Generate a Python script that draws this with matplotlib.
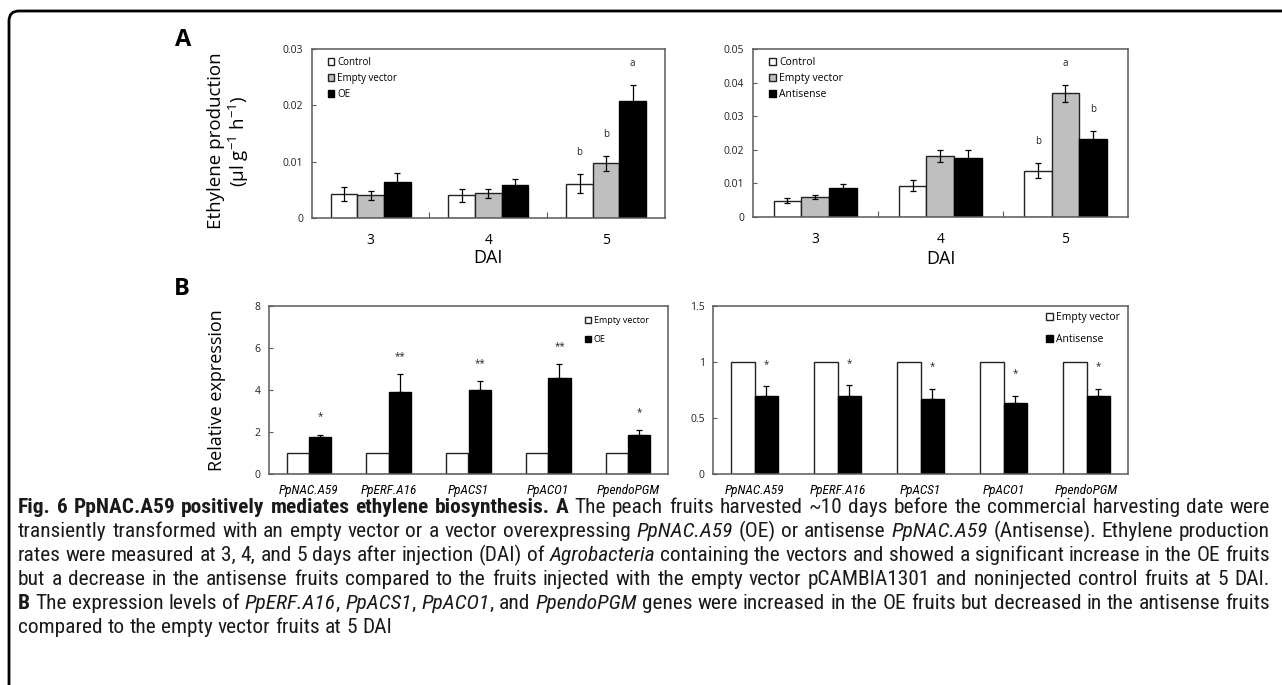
import matplotlib
matplotlib.use('Agg')
import matplotlib.pyplot as plt
from matplotlib import font_manager
from matplotlib.patches import FancyBboxPatch
from matplotlib.transforms import IdentityTransform
import numpy as np

# ---------------- data ----------------
dai = ['3', '4', '5']
groups_oe = ['Control', 'Empty vector', 'OE']
groups_as = ['Control', 'Empty vector', 'Antisense']

a_left_control = [0.00425, 0.0040, 0.0061]
a_left_control_err = [0.0012, 0.0011, 0.0017]
a_left_empty = [0.0040, 0.00436, 0.0097]
a_left_empty_err = [0.00074, 0.00077, 0.0013]
a_left_oe = [0.0064, 0.0058, 0.0207]
a_left_oe_err = [0.0016, 0.0012, 0.0029]
a_left_letters = [['', '', 'b'], ['', '', 'b'], ['', '', 'a']]

a_right_control = [0.0049, 0.0093, 0.0138]
a_right_control_err = [0.0007, 0.0017, 0.0023]
a_right_empty = [0.0059, 0.0182, 0.0368]
a_right_empty_err = [0.0005, 0.0017, 0.0025]
a_right_anti = [0.0085, 0.0177, 0.0232]
a_right_anti_err = [0.0014, 0.0021, 0.0024]
a_right_letters = [['', '', 'b'], ['', '', 'a'], ['', '', 'b']]

genes = ['PpNAC.A59', 'PpERF.A16', 'PpACS1', 'PpACO1', 'PpendoPGM']
b_left_empty = [1, 1, 1, 1, 1]
b_left_oe = [1.78, 3.89, 3.98, 4.59, 1.85]
b_left_oe_err = [0.09, 0.87, 0.45, 0.64, 0.25]
b_left_sig = ['*', '**', '**', '**', '*']

b_right_empty = [1, 1, 1, 1, 1]
b_right_anti = [0.70, 0.696, 0.67, 0.63, 0.70]
b_right_anti_err = [0.086, 0.095, 0.09, 0.07, 0.06]
b_right_sig = ['*', '*', '*', '*', '*']

caption_lines = [
    [("Fig. 6 PpNAC.A59 positively mediates ethylene biosynthesis. A", 'b'),
     (" The peach fruits harvested ~10 days before the commercial harvesting date were", 'n')],
    [("transiently transformed with an empty vector or a vector overexpressing ", 'n'), ("PpNAC.A59", 'i'),
     (" (OE) or antisense ", 'n'), ("PpNAC.A59", 'i'), (" (Antisense). Ethylene production", 'n')],
    [("rates were measured at 3, 4, and 5 days after injection (DAI) of ", 'n'), ("Agrobacteria", 'i'),
     (" containing the vectors and showed a significant increase in the OE fruits", 'n')],
    [("but a decrease in the antisense fruits compared to the fruits injected with the empty vector pCAMBIA1301 and noninjected control fruits at 5 DAI.", 'n')],
    [("B", 'b'), (" The expression levels of ", 'n'), ("PpERF.A16", 'i'), (", ", 'n'), ("PpACS1", 'i'), (", ", 'n'),
     ("PpACO1", 'i'), (", and ", 'n'), ("PpendoPGM", 'i'),
     (" genes were increased in the OE fruits but decreased in the antisense fruits", 'n')],
    [("compared to the empty vector fruits at 5 DAI", 'n')],
]
caption_justify = [True, True, True, True, True, False]

# ---------------- setup ----------------
W, H = 1282, 685
fig = plt.figure(figsize=(W / 100, H / 100), dpi=100)
fig.patch.set_facecolor('white')

avail = {f.name for f in font_manager.fontManager.ttflist}


def pick(*names):
    for n in names:
        if n in avail:
            return n
    return 'DejaVu Sans'


SANS = pick('Open Sans', 'Lato', 'DejaVu Sans')
NARROW = pick('Liberation Sans Narrow', 'Roboto Condensed', 'Liberation Sans', 'DejaVu Sans')
plt.rcParams['mathtext.fontset'] = 'custom'
plt.rcParams['mathtext.rm'] = SANS
plt.rcParams['mathtext.it'] = SANS + ':italic'
plt.rcParams['mathtext.bf'] = SANS + ':bold'
SPINE = '#5a5a5a'
GRAY = '#bfbfbf'


def rect(l, t, r, b):
    return [l / W, 1 - b / H, (r - l) / W, (b - t) / H]


def fx(x):
    return x / W


def fy(y):
    return 1 - y / H


def style_axes(ax, ymax, yticks, ylabels, ncat):
    for s in ax.spines.values():
        s.set_color(SPINE)
        s.set_linewidth(1.1)
    ax.set_ylim(0, ymax)
    ax.set_yticks(yticks)
    ax.set_yticklabels(ylabels, fontsize=7.5, family=SANS, color='#222222')
    ax.tick_params(axis='y', direction='in', length=3, width=0.8, color=SPINE, pad=6)
    ax.set_xlim(-0.5, ncat - 0.5)
    ax.set_xticks(np.arange(ncat))
    ax.set_xticks(np.arange(0.5, ncat - 0.5, 1.0), minor=True)
    ax.tick_params(axis='x', which='major', length=0)
    ax.tick_params(axis='x', which='minor', direction='in', length=4, width=0.8, color=SPINE)
    ax.set_facecolor('white')


def panel_a(ax, ctrl, ctrl_e, emp, emp_e, trt, trt_e, letters, ymax, yticks, ylabels, w, names, legend_xy, legend_fs):
    x = np.arange(len(dai))
    ek = dict(ecolor='black', elinewidth=0.9, capsize=2.5, capthick=0.9)
    b1 = ax.bar(x - w, ctrl, w, yerr=ctrl_e, color='white', edgecolor='#222222', linewidth=1.0, error_kw=ek, label=names[0])
    b2 = ax.bar(x, emp, w, yerr=emp_e, color=GRAY, edgecolor='#222222', linewidth=1.0, error_kw=ek, label=names[1])
    b3 = ax.bar(x + w, trt, w, yerr=trt_e, color='black', edgecolor='black', linewidth=1.0, error_kw=ek, label=names[2])
    style_axes(ax, ymax, yticks, ylabels, len(dai))
    ax.set_xticklabels(dai, fontsize=10, family=SANS)
    ax.tick_params(axis='x', which='major', pad=11)
    for k, (vals, errs, off) in enumerate([(ctrl, ctrl_e, -w), (emp, emp_e, 0), (trt, trt_e, w)]):
        for i in range(len(dai)):
            lab = letters[k][i]
            if lab:
                ax.text(x[i] + off, vals[i] + errs[i] + 0.13 * ymax, lab, ha='center', va='center',
                        fontsize=7, family=SANS, color='#222222')
    ax.legend(handles=[b1, b2, b3], loc='upper left', bbox_to_anchor=legend_xy, bbox_transform=fig.transFigure,
              frameon=False, prop={'family': SANS, 'size': legend_fs}, handlelength=0.65, handleheight=0.65,
              handletextpad=0.3, labelspacing=0.5, borderpad=0, borderaxespad=0)


def panel_b(ax, emp, trt, trt_e, sig, ymax, yticks, ylabels, names, legend_xy, legend_fs, sig_off):
    x = np.arange(len(genes))
    w = 0.28
    ek = dict(ecolor='black', elinewidth=0.9, capsize=2.5, capthick=0.9)
    b1 = ax.bar(x - w / 2, emp, w, color='white', edgecolor='#222222', linewidth=1.0, label=names[0])
    lower = np.zeros(len(trt))
    b2 = ax.bar(x + w / 2, trt, w, yerr=[lower, trt_e], color='black', edgecolor='black', linewidth=1.0,
                error_kw=ek, label=names[1])
    style_axes(ax, ymax, yticks, ylabels, len(genes))
    ax.tick_params(axis='x', which='minor', length=0)
    ax.set_xticklabels(genes, fontsize=9.5, family=NARROW, style='italic')
    ax.tick_params(axis='x', which='major', pad=7)
    for i in range(len(genes)):
        ax.text(x[i] + w / 2, trt[i] + trt_e[i] + sig_off * ymax, sig[i], ha='center', va='center',
                fontsize=7, family=SANS, color='#222222')
    ax.legend(handles=[b1, b2], loc='upper left', bbox_to_anchor=legend_xy, bbox_transform=fig.transFigure,
              frameon=False, prop={'family': SANS, 'size': legend_fs}, handlelength=0.65, handleheight=0.65,
              handletextpad=0.3, labelspacing=1.1, borderpad=0, borderaxespad=0)


# ---------------- panel A ----------------
axA1 = fig.add_axes(rect(311.7, 49, 665, 218))
panel_a(axA1, a_left_control, a_left_control_err, a_left_empty, a_left_empty_err, a_left_oe, a_left_oe_err,
        a_left_letters, 0.03, [0, 0.01, 0.02, 0.03], ['0', '0.01', '0.02', '0.03'], 0.226, groups_oe,
        (fx(328), fy(57)), 7)

axA2 = fig.add_axes(rect(752.7, 49, 1128, 217))
panel_a(axA2, a_right_control, a_right_control_err, a_right_empty, a_right_empty_err, a_right_anti,
        a_right_anti_err, a_right_letters, 0.05, [0, 0.01, 0.02, 0.03, 0.04, 0.05],
        ['0', '0.01', '0.02', '0.03', '0.04', '0.05'], 0.222, groups_as, (fx(769), fy(57)), 7.5)

fig.text(fx(229), fy(141), 'Ethylene production\n(µl g$^{-1}$ h$^{-1}$)', rotation=90, ha='center', va='center',
         fontsize=13.5, family=SANS, linespacing=1.12, multialignment='center')
fig.text(fx(488), fy(258), 'DAI', ha='center', va='center', fontsize=13, family=SANS)
fig.text(fx(941), fy(259), 'DAI', ha='center', va='center', fontsize=13, family=SANS)
fig.text(fx(183), fy(40), 'A', ha='center', va='center', fontsize=17, fontweight='bold', family=SANS)

# ---------------- panel B ----------------
axB1 = fig.add_axes(rect(269, 306, 668, 474))
panel_b(axB1, b_left_empty, b_left_oe, b_left_oe_err, b_left_sig, 8, [0, 2, 4, 6, 8], ['0', '2', '4', '6', '8'],
        ['Empty vector', 'OE'], (fx(585), fy(316)), 6.5, 0.105)

axB2 = fig.add_axes(rect(713, 306, 1128, 474))
panel_b(axB2, b_right_empty, b_right_anti, b_right_anti_err, b_right_sig, 1.5, [0, 0.5, 1, 1.5],
        ['0', '0.5', '1', '1.5'], ['Empty vector', 'Antisense'], (fx(1046), fy(312)), 7.5, 0.13)

fig.text(fx(217), fy(390), 'Relative expression', rotation=90, ha='center', va='center', fontsize=13, family=SANS)
fig.text(fx(182), fy(289), 'B', ha='center', va='center', fontsize=17, fontweight='bold', family=SANS)

# ---------------- caption ----------------
renderer = fig.canvas.get_renderer()
STY = {'n': dict(), 'b': dict(fontweight='bold'), 'i': dict(style='italic')}


def words_of(segs):
    words = [[]]
    for txt, st in segs:
        parts = txt.split(' ')
        for i, p in enumerate(parts):
            if i > 0:
                words.append([])
            if p:
                words[-1].append((p, st))
    return [w for w in words if w]


def width(s, st, fs):
    t = fig.text(0, 0, s, fontsize=fs, family=NARROW, **STY[st])
    wd = t.get_window_extent(renderer).width
    t.remove()
    return wd


x0, x1 = 18, 1270
base_fs = 13.5
space_w = width('x x', 'n', base_fs) - width('xx', 'n', base_fs)
nat = []
for segs in caption_lines[:5]:
    ws = words_of(segs)
    nat.append(sum(width(p, st, base_fs) for w_ in ws for p, st in w_) + space_w * (len(ws) - 1))
scale = (x1 - x0) * 0.995 / max(nat)
fs = base_fs * scale
space_w = width('x x', 'n', fs) - width('xx', 'n', fs)

baselines = [513, 537, 561, 585, 609, 633]
for segs, yb, just in zip(caption_lines, baselines, caption_justify):
    ws = words_of(segs)
    wlist = [[(p, st, width(p, st, fs)) for p, st in w_] for w_ in ws]
    tot = sum(pw for w_ in wlist for _, _, pw in w_)
    gap = (x1 - x0 - tot) / (len(ws) - 1) if (just and len(ws) > 1) else space_w
    x = x0
    for w_ in wlist:
        for p, st, pw in w_:
            fig.text(fx(x), fy(yb), p, fontsize=fs, family=NARROW, ha='left', va='baseline', color='#1a1a1a',
                     **STY[st])
            x += pw
        x += gap

# ---------------- frame ----------------
frame = FancyBboxPatch((9, -30), 1320, H - 11 + 30, boxstyle='round,pad=0,rounding_size=10',
                       transform=IdentityTransform(), facecolor='none', edgecolor='black', linewidth=2.0)
fig.add_artist(frame)

fig.savefig('out.png', dpi=100, facecolor='white')
